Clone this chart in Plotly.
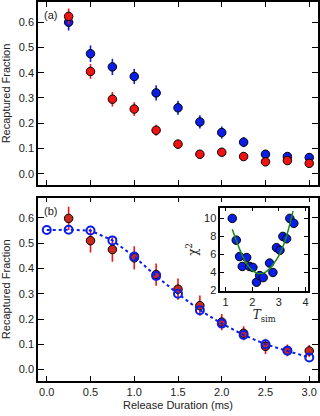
import plotly.graph_objects as go

# ---------------- data ----------------
t_a = [0.25, 0.5, 0.75, 1.0, 1.25, 1.5, 1.75, 2.0, 2.25, 2.5, 2.75, 3.0]
blue_a = [0.600, 0.475, 0.423, 0.385, 0.320, 0.261, 0.205, 0.163, 0.125, 0.077, 0.068, 0.064]
blue_a_err = [0.033, 0.033, 0.032, 0.030, 0.030, 0.028, 0.026, 0.024, 0.020, 0.014, 0.012, 0.012]
red_a = [0.623, 0.405, 0.295, 0.256, 0.172, 0.117, 0.077, 0.085, 0.068, 0.047, 0.052, 0.041]
red_a_err = [0.031, 0.029, 0.029, 0.027, 0.022, 0.018, 0.014, 0.015, 0.012, 0.010, 0.010, 0.010]

t_b = [0.25, 0.5, 0.75, 1.0, 1.25, 1.5, 1.75, 2.0, 2.25, 2.5, 2.75, 3.0]
exp_b = [0.598, 0.510, 0.475, 0.442, 0.376, 0.318, 0.253, 0.188, 0.144, 0.092, 0.076, 0.074]
exp_b_err = [0.046, 0.047, 0.048, 0.046, 0.044, 0.042, 0.040, 0.032, 0.028, 0.030, 0.023, 0.023]

t_sim = [0.0, 0.25, 0.5, 0.75, 1.0, 1.25, 1.5, 1.75, 2.0, 2.25, 2.5, 2.75, 3.0]
sim_b = [0.552, 0.553, 0.550, 0.511, 0.447, 0.370, 0.300, 0.235, 0.182, 0.137, 0.100, 0.075, 0.048]

tsim_pts = [1.25, 1.40, 1.525, 1.625, 1.79, 1.90, 2.025, 2.16, 2.28, 2.41, 2.65, 2.775, 2.91, 3.04, 3.15, 3.29, 3.41, 3.56]
chi2_pts = [10.0, 7.58, 5.75, 4.65, 5.64, 4.65, 4.54, 2.9, 3.64, 3.41, 5.03, 3.98, 6.74, 6.45, 7.99, 7.73, 10.0, 9.45]

tsim_fit = [1.25, 1.5, 1.75, 2.0, 2.25, 2.5, 2.75, 3.0, 3.25, 3.44, 3.53]
chi2_fit = [8.79, 6.78, 5.13, 4.21, 3.85, 4.03, 4.76, 5.86, 7.69, 9.7, 10.8]

x_ticks = [0.0, 0.5, 1.0, 1.5, 2.0, 2.5, 3.0]
y_ticks = [0.0, 0.1, 0.2, 0.3, 0.4, 0.5, 0.6]

# ---------------- style ----------------
BLUE = "#0a1ee8"
RED = "#f21212"
DRED = "#c8281e"
GREEN = "#1a8c1a"
FONT = "Liberation Sans, Arial, sans-serif"
TXT = "#222222"

fig = go.Figure()

# panel (a)
fig.add_trace(go.Scatter(
    x=t_a, y=blue_a, mode="markers", xaxis="x", yaxis="y",
    marker=dict(size=8.5, color=BLUE, line=dict(color="black", width=1)),
    error_y=dict(type="data", array=blue_a_err, color=BLUE, thickness=1.6, width=0),
    showlegend=False))
fig.add_trace(go.Scatter(
    x=t_a, y=red_a, mode="markers", xaxis="x", yaxis="y",
    marker=dict(size=8.5, color=RED, line=dict(color="black", width=1)),
    error_y=dict(type="data", array=red_a_err, color=RED, thickness=1.6, width=0),
    showlegend=False))

# panel (b)
fig.add_trace(go.Scatter(
    x=t_b, y=exp_b, mode="markers", xaxis="x2", yaxis="y2",
    marker=dict(size=8.5, color=DRED, line=dict(color="black", width=1)),
    error_y=dict(type="data", array=exp_b_err, color=RED, thickness=1.6, width=0),
    showlegend=False))
fig.add_trace(go.Scatter(
    x=t_sim, y=sim_b, mode="lines+markers", xaxis="x2", yaxis="y2",
    line=dict(color=BLUE, width=2, dash="dot"),
    marker=dict(size=8, symbol="circle-open", color=BLUE, line=dict(color=BLUE, width=2)),
    showlegend=False))

# inset
fig.add_trace(go.Scatter(
    x=tsim_pts, y=chi2_pts, mode="markers", xaxis="x3", yaxis="y3",
    marker=dict(size=8.5, color=BLUE, line=dict(color="black", width=1)),
    showlegend=False))
fig.add_trace(go.Scatter(
    x=tsim_fit, y=chi2_fit, mode="lines", xaxis="x3", yaxis="y3",
    line=dict(color=GREEN, width=1.5, shape="spline"),
    showlegend=False))

ax_common = dict(showline=True, linecolor="black", linewidth=1.6, mirror="ticks",
                 ticks="inside", tickcolor="black", tickwidth=1, showgrid=False,
                 zeroline=False, tickfont=dict(family=FONT, size=11, color=TXT))

fig.update_layout(
    width=320, height=416,
    margin=dict(l=38, r=0, t=0, b=35),
    paper_bgcolor="white", plot_bgcolor="white",
    font=dict(family=FONT, size=11, color=TXT),
    xaxis=dict(domain=[0, 1], anchor="y", range=[-0.1, 3.1], tickvals=x_ticks,
               showticklabels=False, ticklen=5, **ax_common),
    yaxis=dict(domain=[0.517, 1.0], anchor="x", range=[-0.045, 0.68], tickvals=y_ticks,
               tickformat=".1f", ticklen=6,
               title=dict(text="Recaptured Fraction", font=dict(family=FONT, size=11, color=TXT), standoff=6),
               **ax_common),
    xaxis2=dict(domain=[0, 1], anchor="y2", range=[-0.1, 3.1], tickvals=x_ticks,
                tickformat=".1f", ticklen=5,
                title=dict(text="Release Duration (ms)", font=dict(family=FONT, size=11, color=TXT), standoff=4),
                **ax_common),
    yaxis2=dict(domain=[0, 0.4837], anchor="x2", range=[-0.045, 0.68], tickvals=y_ticks,
                tickformat=".1f", ticklen=6,
                title=dict(text="Recaptured Fraction", font=dict(family=FONT, size=11, color=TXT), standoff=6),
                **ax_common),
    xaxis3=dict(domain=[0.651, 0.965], anchor="y3", range=[0.8, 4.1], tickvals=[1, 2, 3, 4],
                ticklen=4,
                title=dict(text="<i>T</i><sub>sim</sub>", font=dict(family="DejaVu Serif, serif", size=12, color=TXT), standoff=2),
                **ax_common),
    yaxis3=dict(domain=[0.237, 0.4575], anchor="x3", range=[1.9, 11.2], tickvals=[2, 4, 6, 8, 10],
                ticklen=4,
                title=dict(text="χ<sup>2</sup>", font=dict(family="DejaVu Serif, serif", size=12, color=TXT), standoff=4),
                **ax_common),
    annotations=[
        dict(text="(a)", xref="paper", yref="paper", x=0.043, y=0.966, showarrow=False,
             xanchor="center", yanchor="middle", font=dict(family=FONT, size=11, color=TXT)),
        dict(text="(b)", xref="paper", yref="paper", x=0.043, y=0.449, showarrow=False,
             xanchor="center", yanchor="middle", font=dict(family=FONT, size=11, color=TXT)),
    ],
)

fig.write_html("out.html", config={"displayModeBar": False},
               post_script="document.body.style.margin='0';document.body.style.overflow='hidden';")
